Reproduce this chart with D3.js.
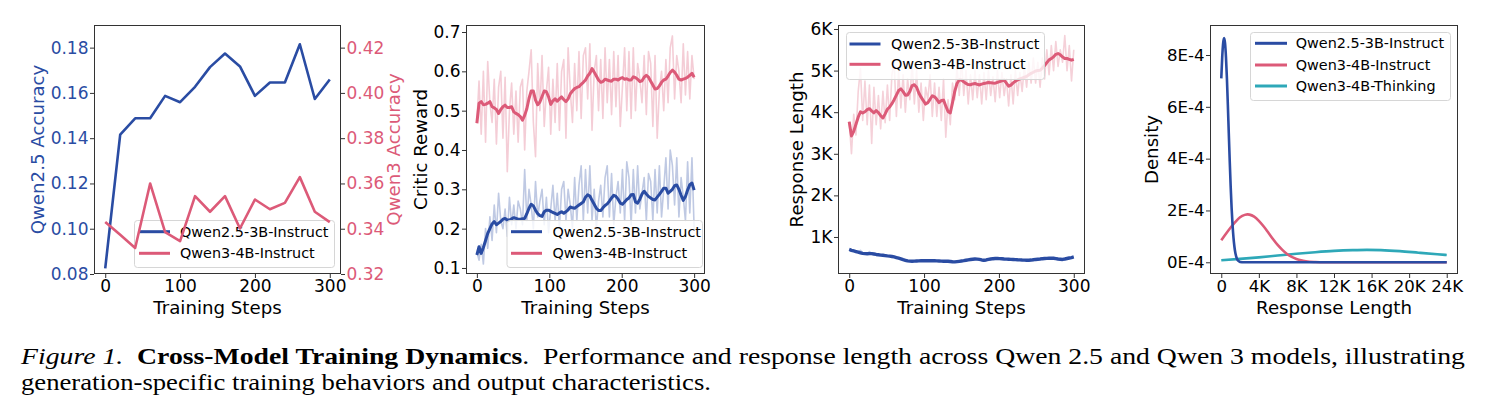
<!DOCTYPE html>
<html><head><meta charset="utf-8">
<script src="https://cdn.jsdelivr.net/npm/d3@7"></script>
<style>body{margin:0;background:#fff}svg{display:block}</style>
</head><body>
<script>
// ---------------- DATA ----------------
const p1Steps = [0,20,40,60,80,100,120,140,160,180,200,220,240,260,280,300];
const p1Qwen25 = [0.0825,0.1416,0.1488,0.1488,0.1587,0.1559,0.1627,0.1714,0.1774,0.1717,0.1587,0.1646,0.1646,0.1815,0.1573,0.1659];
const p1Qwen3  = [0.3430,0.3373,0.3315,0.3600,0.3385,0.3345,0.3544,0.3475,0.3544,0.3401,0.3529,0.3486,0.3514,0.3628,0.3475,0.3429];

const steps = d3.range(0, 301, 3); // training step index for panels 2 and 3

const p2BlueRaw = [0.14,0.12,0.16,0.11,0.20,0.15,0.23,0.17,0.26,0.19,
 0.29,0.22,0.20,0.25,0.18,0.28,0.21,0.26,0.20,0.27,
 0.25,0.21,0.35,0.22,0.30,0.26,0.20,0.32,0.23,0.27,
 0.30,0.21,0.28,0.19,0.25,0.31,0.22,0.29,0.20,0.30,
 0.32,0.22,0.30,0.26,0.20,0.33,0.22,0.31,0.36,0.22,
 0.35,0.24,0.36,0.22,0.30,0.20,0.27,0.31,0.23,0.33,
 0.36,0.23,0.34,0.21,0.28,0.32,0.24,0.35,0.22,0.37,
 0.33,0.21,0.35,0.24,0.36,0.25,0.29,0.33,0.22,0.34,
 0.32,0.22,0.35,0.24,0.36,0.23,0.30,0.38,0.25,0.40,
 0.36,0.26,0.38,0.23,0.33,0.28,0.22,0.37,0.24,0.38,
 0.20];
const p2BlueSmooth = [0.133,0.154,0.137,0.152,0.170,0.188,0.200,0.212,0.218,0.210,
 0.214,0.218,0.224,0.226,0.222,0.222,0.225,0.228,0.226,0.224,
 0.224,0.225,0.226,0.238,0.252,0.262,0.258,0.247,0.238,0.233,
 0.231,0.243,0.247,0.247,0.244,0.241,0.239,0.236,0.240,0.243,
 0.239,0.243,0.248,0.255,0.253,0.252,0.256,0.260,0.264,0.268,
 0.280,0.286,0.283,0.272,0.262,0.252,0.246,0.246,0.253,0.259,
 0.263,0.270,0.278,0.285,0.282,0.275,0.265,0.262,0.268,0.274,
 0.278,0.286,0.287,0.268,0.265,0.275,0.288,0.295,0.288,0.282,
 0.278,0.274,0.273,0.280,0.287,0.295,0.303,0.303,0.290,0.295,
 0.300,0.309,0.311,0.300,0.285,0.272,0.282,0.298,0.312,0.316,
 0.298];
const p2RedRaw = [0.47,0.575,0.44,0.60,0.42,0.625,0.52,0.47,0.58,0.415,
 0.56,0.60,0.43,0.585,0.345,0.50,0.57,0.44,0.55,0.42,
 0.56,0.58,0.40,0.55,0.60,0.655,0.47,0.383,0.62,0.50,
 0.64,0.46,0.55,0.61,0.44,0.58,0.47,0.62,0.45,0.60,
 0.63,0.43,0.66,0.55,0.47,0.62,0.50,0.65,0.48,0.64,
 0.66,0.53,0.67,0.45,0.60,0.64,0.50,0.63,0.48,0.66,
 0.52,0.63,0.49,0.65,0.51,0.64,0.46,0.56,0.66,0.50,
 0.65,0.48,0.66,0.50,0.62,0.58,0.52,0.64,0.49,0.65,
 0.62,0.46,0.64,0.43,0.55,0.60,0.50,0.63,0.52,0.66,
 0.69,0.53,0.64,0.60,0.52,0.67,0.54,0.65,0.53,0.64,
 0.58];
const p2RedSmooth = [0.468,0.519,0.523,0.515,0.516,0.519,0.523,0.510,0.507,0.503,
 0.493,0.503,0.510,0.514,0.508,0.508,0.510,0.497,0.493,0.490,
 0.485,0.476,0.488,0.505,0.531,0.550,0.550,0.527,0.515,0.522,
 0.536,0.550,0.548,0.535,0.516,0.525,0.530,0.524,0.530,0.535,
 0.528,0.523,0.530,0.543,0.550,0.556,0.559,0.561,0.567,0.572,
 0.578,0.588,0.595,0.607,0.598,0.588,0.578,0.572,0.574,0.580,
 0.578,0.576,0.575,0.580,0.580,0.578,0.582,0.584,0.580,0.581,
 0.578,0.578,0.586,0.584,0.580,0.574,0.576,0.585,0.590,0.585,
 0.575,0.565,0.555,0.556,0.563,0.572,0.578,0.580,0.588,0.597,
 0.603,0.598,0.590,0.580,0.578,0.580,0.582,0.585,0.590,0.595,
 0.585];

const p3BlueRaw = [710,690,660,655,640,680,600,610,595,650,
 600,585,590,570,575,560,555,545,550,530,
 525,500,495,470,460,440,430,415,425,420,
 425,430,420,435,425,440,425,430,435,420,
 425,415,420,415,420,405,410,400,405,420,
 420,435,440,455,455,470,465,475,455,445,
 440,455,460,475,480,490,480,485,470,475,
 465,470,460,465,455,450,455,440,445,440,
 440,450,450,465,460,475,480,480,490,495,
 490,485,475,465,470,455,475,485,500,505,
 520];
const p3BlueSmooth = [700,680,665,650,635,620,605,600,598,600,
 600,590,580,572,565,560,552,545,540,530,
 520,505,490,475,455,440,425,420,418,420,
 422,425,428,430,432,430,428,430,428,425,
 422,420,418,418,415,410,405,402,408,415,
 422,430,440,450,458,465,470,468,460,448,
 442,448,460,470,478,482,482,480,475,470,
 468,465,462,460,456,452,450,446,444,442,
 440,445,452,460,465,470,478,482,486,490,
 492,488,480,470,465,460,470,482,495,505,
 520];
const p3RedRaw = [3780,3000,3950,3450,4500,5050,3800,4750,3700,4650,
 3250,4600,3700,4400,3600,4500,3750,4650,3800,4900,
 5200,3900,5000,4100,4900,4000,4800,4300,5200,4200,
 5000,4000,4700,3800,4600,4300,4900,3900,4700,3900,
 4600,3800,4800,3400,4300,3700,4700,4300,5100,4400,
 5300,4400,5000,4200,4900,4300,5000,4350,4900,4200,
 4950,4300,5000,4400,4850,4250,5000,4350,4950,4400,
 4800,4150,4900,4200,5000,4400,4950,4500,5100,4600,
 5200,4700,5300,4700,5200,4600,5300,4800,5500,4900,
 5600,5000,5700,5100,5500,5200,5840,5000,5600,4750,
 5500];
const p3RedSmooth = [3772,3430,3540,3710,3880,4010,3980,4010,4060,4085,
 4030,3985,4040,3990,3915,3860,3960,4070,4125,4205,
 4300,4410,4520,4560,4493,4410,4415,4500,4640,4660,
 4600,4460,4360,4280,4195,4230,4310,4395,4370,4310,
 4230,4280,4290,4150,4015,3980,4230,4500,4690,4773,
 4773,4730,4690,4665,4660,4680,4690,4670,4655,4675,
 4692,4700,4712,4710,4700,4698,4718,4736,4755,4772,
 4700,4625,4650,4705,4745,4775,4800,4820,4840,4860,
 4900,4935,4960,4990,5000,5008,5060,5120,5190,5258,
 5290,5330,5390,5410,5380,5330,5290,5290,5270,5250,
 5270];

const p4BlueX = [0,100,200,300,400,500,600,700,800,900,1000,1100,1200,1300,1400,1500,1600,1700,1800,2000,2400,3000,6000,12000,24000];
const p4BlueY = [7.10,7.92,8.46,8.65,8.46,7.92,7.10,6.08,4.98,3.91,2.93,2.10,1.45,0.95,0.60,0.36,0.21,0.11,0.06,0.015,0,0,0,0,0]; // x1e-4
const p4RedX = [0,500,1000,1500,2000,2500,2800,3000,3500,4000,4500,5000,5500,6000,6500,7000,7500,8000,8500,9000,10000,11000,16000,24000];
const p4RedY = [0.85,1.10,1.34,1.56,1.74,1.83,1.85,1.84,1.76,1.60,1.39,1.15,0.90,0.67,0.48,0.32,0.21,0.13,0.074,0.04,0.01,0,0,0];
const p4TealX = [0,2000,4000,6000,8000,10000,12000,14000,15500,17000,19000,21000,23000,24000];
const p4TealY = [0.08,0.13,0.19,0.26,0.33,0.39,0.44,0.47,0.48,0.47,0.43,0.37,0.31,0.28];

const seriesNames = ["Qwen2.5-3B-Instruct","Qwen3-4B-Instruct","Qwen3-4B-Thinking"];
const stepTicks = [0,100,200,300];
const p1LeftTicks = [0.08,0.10,0.12,0.14,0.16,0.18];
const p1RightTicks = [0.32,0.34,0.36,0.38,0.40,0.42];
const p2Ticks = [0.1,0.2,0.3,0.4,0.5,0.6,0.7];
const p3Ticks = [1000,2000,3000,4000,5000,6000];
const p3TickLabels = ["1K","2K","3K","4K","5K","6K"];
const p4XTicks = [0,4000,8000,12000,16000,20000,24000];
const p4XTickLabels = ["0","4K","8K","12K","16K","20K","24K"];
const p4YTicks = [0,2e-4,4e-4,6e-4,8e-4];
const p4YTickLabels = ["0E-4","2E-4","4E-4","6E-4","8E-4"];

// ---------------- DRAW ----------------
const W = 1491, H = 417;
const BLUE = "#2a4ca3", PINK = "#dc5a78", TEAL = "#2ea8b8";
const FONT = "'DejaVu Sans', sans-serif";
const TICK = 17, LAB = 18.2, LEG = 14.4;

const svg = d3.select("body").append("svg").attr("width", W).attr("height", H);
svg.append("rect").attr("width", W).attr("height", H).attr("fill", "#fff");

function panel(o) {
  const g = svg.append("g");
  const x = d3.scaleLinear().domain(o.xd).range([o.l, o.r]);
  const y = d3.scaleLinear().domain(o.yd).range([o.b, o.t]);
  g.append("clipPath").attr("id", "clip" + o.id).append("rect")
    .attr("x", o.l).attr("y", o.t).attr("width", o.r - o.l).attr("height", o.b - o.t);
  const plot = g.append("g").attr("clip-path", `url(#clip${o.id})`);
  const xa = g.append("g").attr("transform", `translate(0,${o.b})`)
    .call(d3.axisBottom(x).tickValues(o.xt).tickFormat((d, i) => o.xl ? o.xl[i] : d).tickSize(4).tickPadding(2));
  const ya = g.append("g").attr("transform", `translate(${o.l},0)`)
    .call(d3.axisLeft(y).tickValues(o.yt).tickFormat((d, i) => o.yl[i]).tickSize(4).tickPadding(1.5));
  [xa, ya].forEach(a => {
    a.attr("font-family", FONT).attr("font-size", o.tickSize || TICK);
    a.select(".domain").remove();
    a.selectAll(".tick line").attr("stroke", "#333");
    a.selectAll(".tick text").attr("fill", "#000");
  });
  if (o.yColor) ya.selectAll(".tick text").attr("fill", o.yColor);
  svg.append("text").attr("x", (o.l + o.r) / 2).attr("y", 313.5).attr("text-anchor", "middle")
    .attr("font-family", FONT).attr("font-size", LAB).attr("fill", "#000").text(o.xlabel);
  svg.append("text").attr("transform", `translate(${o.ylx},${(o.t + o.b) / 2}) rotate(-90)`)
    .attr("text-anchor", "middle").attr("font-family", FONT).attr("font-size", LAB)
    .attr("fill", o.yColor || "#000").text(o.ylabel);
  return { g, plot, x, y, o };
}
function frame(p) {
  const o = p.o;
  svg.append("rect").attr("x", o.l + 0.5).attr("y", o.t + 0.5).attr("width", o.r - o.l - 1).attr("height", o.b - o.t - 1)
    .attr("fill", "none").attr("stroke", "#333").attr("stroke-width", 1);
}
function legend(parent, L) {
  const g = parent.append("g");
  g.append("rect").attr("x", L.x0 + 0.5).attr("y", L.y0 + 0.5).attr("width", L.x1 - L.x0).attr("height", L.y1 - L.y0)
    .attr("rx", 3).attr("fill", "#fff").attr("fill-opacity", 0.8).attr("stroke", "#d6d6d6").attr("stroke-width", 1);
  L.items.forEach((it, i) => {
    const yy = L.rows[i];
    g.append("line").attr("x1", L.h0).attr("x2", L.h1).attr("y1", yy).attr("y2", yy)
      .attr("stroke", it.color).attr("stroke-width", 3);
    g.append("text").attr("x", L.tx).attr("y", yy).attr("dy", "0.36em").attr("font-family", FONT)
      .attr("font-size", LEG).attr("fill", "#000").text(it.label);
  });
}
function drawLine(sel, xs, ys, xS, yS, color, width, opacity, curve) {
  const data = xs.map((d, i) => [d, ys[i]]);
  sel.append("path").datum(data)
    .attr("d", d3.line().x(d => xS(d[0])).y(d => yS(d[1])).curve(curve || d3.curveLinear))
    .attr("fill", "none").attr("stroke", color).attr("stroke-width", width)
    .attr("stroke-opacity", opacity).attr("stroke-linejoin", "round").attr("stroke-linecap", "butt");
}

// Panel 1
const P1 = panel({ id: 1, l: 94, r: 341, t: 25, b: 274, xd: [-15, 315], yd: [0.08, 0.19],
  xt: stepTicks, yt: p1LeftTicks, yl: p1LeftTicks.map(d => d.toFixed(2)), yColor: BLUE,
  xlabel: "Training Steps", ylabel: "Qwen2.5 Accuracy", ylx: 44 });
const y1r = d3.scaleLinear().domain([0.32, 0.43]).range([274, 25]);
const ra = svg.append("g").attr("transform", "translate(341,0)")
  .call(d3.axisRight(y1r).tickValues(p1RightTicks).tickFormat(d => d.toFixed(2)).tickSize(4).tickPadding(1.5));
ra.attr("font-family", FONT).attr("font-size", TICK);
ra.select(".domain").remove();
ra.selectAll(".tick line").attr("stroke", "#333");
ra.selectAll(".tick text").attr("fill", PINK);
svg.append("text").attr("transform", `translate(400,149.5) rotate(-90)`).attr("text-anchor", "middle")
  .attr("font-family", FONT).attr("font-size", LAB).attr("fill", PINK).text("Qwen3 Accuracy");
drawLine(P1.plot, p1Steps, p1Qwen25, P1.x, P1.y, BLUE, 2.6, 1);
legend(P1.plot, { x0: 134, x1: 334, y0: 220, y1: 267, h0: 139, h1: 170, tx: 180, rows: [231.7, 253.3],
  items: [{ label: seriesNames[0], color: BLUE }, { label: seriesNames[1], color: PINK }] });
drawLine(P1.plot, p1Steps, p1Qwen3, P1.x, y1r, PINK, 2.6, 1);
frame(P1);

// Panel 2
const P2 = panel({ id: 2, l: 466, r: 705, t: 25, b: 274, xd: [-15, 315], yd: [0.0847, 0.7178],
  xt: stepTicks, yt: p2Ticks, yl: p2Ticks.map(d => d.toFixed(1)),
  xlabel: "Training Steps", ylabel: "Critic Reward", ylx: 426.5 });
drawLine(P2.plot, steps, p2RedRaw, P2.x, P2.y, PINK, 1.6, 0.3);
drawLine(P2.plot, steps, p2BlueRaw, P2.x, P2.y, BLUE, 1.6, 0.3);
drawLine(P2.plot, steps, p2RedSmooth, P2.x, P2.y, PINK, 3, 1);
drawLine(P2.plot, steps, p2BlueSmooth, P2.x, P2.y, BLUE, 3, 1);
legend(P2.plot, { x0: 506.5, x1: 702, y0: 220, y1: 267, h0: 511, h1: 542, tx: 552.5, rows: [231.7, 253.3],
  items: [{ label: seriesNames[0], color: BLUE }, { label: seriesNames[1], color: PINK }] });
frame(P2);

// Panel 3
const P3 = panel({ id: 3, l: 838, r: 1085, t: 25, b: 274, xd: [-15, 315], yd: [110, 6096],
  xt: stepTicks, yt: p3Ticks, yl: p3TickLabels,
  xlabel: "Training Steps", ylabel: "Response Length", ylx: 803 });
drawLine(P3.plot, steps, p3RedRaw, P3.x, P3.y, PINK, 1.6, 0.28);
drawLine(P3.plot, steps, p3BlueRaw, P3.x, P3.y, BLUE, 1.6, 0.3);
drawLine(P3.plot, steps, p3RedSmooth, P3.x, P3.y, PINK, 3, 1);
drawLine(P3.plot, steps, p3BlueSmooth, P3.x, P3.y, BLUE, 3.4, 1);
legend(P3.plot, { x0: 846, x1: 1044, y0: 32, y1: 79, h0: 849.5, h1: 880.5, tx: 891, rows: [44, 64.3],
  items: [{ label: seriesNames[0], color: BLUE }, { label: seriesNames[1], color: PINK }] });
frame(P3);

// Panel 4
const P4 = panel({ id: 4, l: 1210, r: 1458, t: 25, b: 274, xd: [-1200, 25200], yd: [-0.452e-4, 9.158e-4],
  xt: p4XTicks, xl: p4XTickLabels, yt: p4YTicks, yl: p4YTickLabels, tickSize: 16.6,
  xlabel: "Response Length", ylabel: "Density", ylx: 1158 });
drawLine(P4.plot, p4TealX, p4TealY.map(v => v * 1e-4), P4.x, P4.y, TEAL, 2.6, 1, d3.curveMonotoneX);
drawLine(P4.plot, p4RedX, p4RedY.map(v => v * 1e-4), P4.x, P4.y, PINK, 2.6, 1, d3.curveMonotoneX);
drawLine(P4.plot, p4BlueX, p4BlueY.map(v => v * 1e-4), P4.x, P4.y, BLUE, 2.6, 1, d3.curveMonotoneX);
legend(P4.plot, { x0: 1250, x1: 1450, y0: 32, y1: 100, h0: 1255, h1: 1287, tx: 1295.7, rows: [43.3, 65, 86],
  items: [{ label: seriesNames[0], color: BLUE }, { label: seriesNames[1], color: PINK }, { label: seriesNames[2], color: TEAL }] });
frame(P4);

// Caption
const CAP_FONT = "'Liberation Serif', 'Times New Roman', serif";
const cap1 = svg.append("text").attr("x", 21).attr("y", 364).attr("font-family", CAP_FONT).attr("font-size", 23.5).attr("fill", "#000");
cap1.append("tspan").attr("font-style", "italic").text("Figure 1.");
cap1.append("tspan").text("\u00a0\u00a0");
cap1.append("tspan").attr("font-weight", "bold").text("Cross-Model Training Dynamics");
cap1.append("tspan").text(".\u00a0\u00a0Performance and response length across Qwen 2.5 and Qwen 3 models, illustrating");
cap1.attr("textLength", 1444).attr("lengthAdjust", "spacingAndGlyphs");
svg.append("text").attr("x", 21).attr("y", 390).attr("font-family", CAP_FONT).attr("font-size", 23.5).attr("fill", "#000")
  .attr("textLength", 690).attr("lengthAdjust", "spacingAndGlyphs")
  .text("generation-specific training behaviors and output characteristics.");
</script>
</body></html>
